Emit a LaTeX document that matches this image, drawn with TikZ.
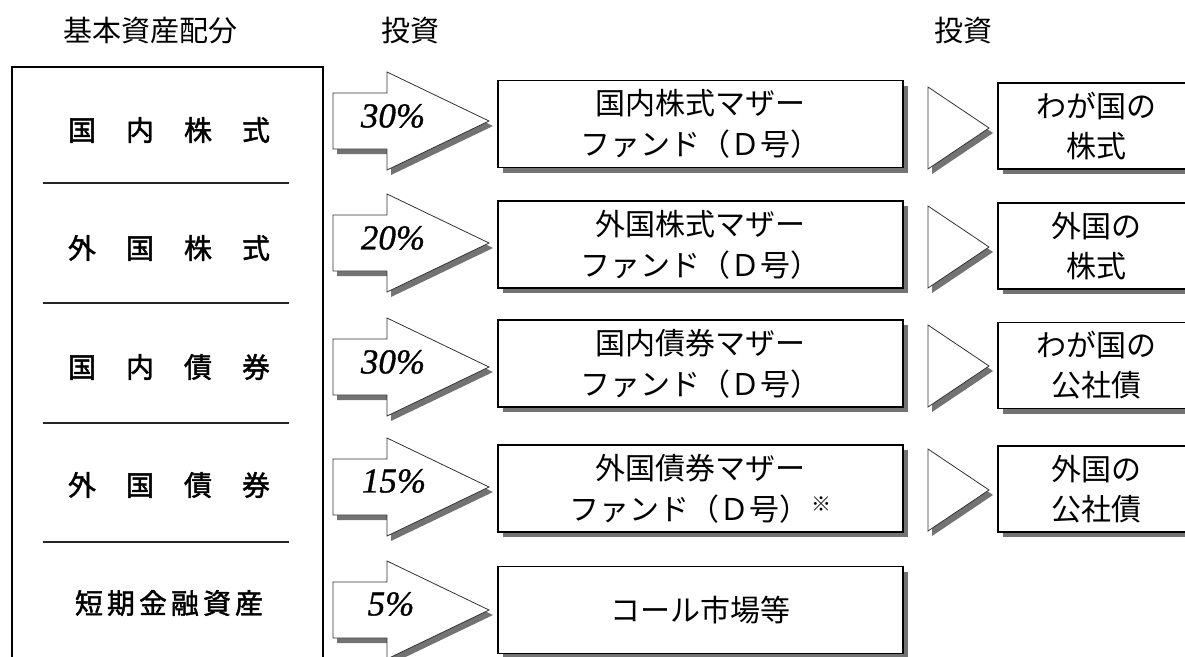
\documentclass[tikz,border=0pt]{standalone}
\usepackage{fontspec}
\setmainfont{Liberation Serif}
\newfontfamily\jp{Noto Sans CJK JP}
\newfontfamily\jpm[FakeBold=1.6]{Noto Sans CJK JP}
\newfontface\pctfont[FakeBold=0.9]{Liberation Serif Italic}
\usetikzlibrary{shadows}
\tikzset{
  hdr/.style={font=\jp\fontsize{29}{32}\selectfont},
  cat/.style={font=\jpm\fontsize{28}{32}\selectfont},
  pct/.style={font=\pctfont\fontsize{35}{36}\selectfont},
  boxshadow/.style={drop shadow={shadow xshift=5pt, shadow yshift=-5pt, fill=black!55, opacity=1}},
  fund/.style={draw, line width=1.4pt, fill=white, minimum width=405pt, minimum height=87pt,
    inner sep=0pt, align=center, font=\jp\fontsize{30}{41}\selectfont, boxshadow},
  asset/.style={draw, line width=1.4pt, fill=white, minimum width=197pt, minimum height=86pt,
    inner sep=0pt, align=center, font=\jp\fontsize{30}{40}\selectfont, boxshadow},
  blockarrow/.style={fill=white, draw=black!80, line width=0.8pt, line join=miter},
  shade/.style={fill=black!55},
  sepline/.style={line width=2.2pt, draw=black!85},
}
\newcommand\bigarr[1]{%
  \fill[shade, shift={(4,#1+5)}] (333,-28) -- (387,-28) -- (387,-49) -- (489,0) -- (387,49) -- (387,28) -- (333,28) -- cycle;
  \draw[blockarrow, shift={(0,#1)}] (333,-28) -- (387,-28) -- (387,-49) -- (489,0) -- (387,49) -- (387,28) -- (333,28) -- cycle;}
\newcommand\tri[1]{%
  \fill[shade, shift={(4,#1+5)}] (928,-41) -- (989,0) -- (928,41) -- cycle;
  \draw[blockarrow, shift={(0,#1)}] (928,-41) -- (989,0) -- (928,41) -- cycle;}
\begin{document}
\begin{tikzpicture}[x=1pt,y=-1pt]
\useasboundingbox (0,0) rectangle (1185,656);
\fill[white] (0,0) rectangle (1185,656);
\clip (0,0) rectangle (1185,656);

% headers
\node[hdr] (h1) at (150,31) {基本資産配分};
\node[hdr] (h2) at (410,31) {投資};
\node[hdr] (h3) at (963,31) {投資};

% left allocation box (open at the bottom)
\draw[line width=2.6pt] (12,700) -- (12,67) -- (323,67) -- (323,700);
\draw[sepline] (43,183) -- (289,183);
\draw[sepline] (43,303) -- (289,303);
\draw[sepline] (43,423) -- (289,423);
\draw[sepline] (43,542) -- (289,542);

\node[cat] (c1) at (169,130) {国\kern30pt 内\kern30pt 株\kern30pt 式};
\node[cat] (c2) at (169,248) {外\kern30pt 国\kern30pt 株\kern30pt 式};
\node[cat] (c3) at (169,367) {国\kern30pt 内\kern30pt 債\kern30pt 券};
\node[cat] (c4) at (169,485) {外\kern30pt 国\kern30pt 債\kern30pt 券};
\node[cat] (c5) at (169,603) {短\kern4pt 期\kern4pt 金\kern4pt 融\kern4pt 資\kern4pt 産};

% block arrows with percentages
\bigarr{121}
\bigarr{243}
\bigarr{367}
\bigarr{487}
\bigarr{610}
\node[pct] (p1) at (393,116) {30\%};
\node[pct] (p2) at (393,238) {20\%};
\node[pct] (p3) at (393,362) {30\%};
\node[pct] (p4) at (394,481) {15\%};
\node[pct] (p5) at (391,604) {5\%};

% mother funds
\node[fund] (m1) at (700.5,124) {国内株式マザー\\ファンド（Ｄ号）};
\node[fund] (m2) at (700.5,244.5) {外国株式マザー\\ファンド（Ｄ号）};
\node[fund] (m3) at (700.5,363.5) {国内債券マザー\\ファンド（Ｄ号）};
\node[fund] (m4) at (700.5,488.5) {外国債券マザー\\ファンド（Ｄ号）\kern2pt\raisebox{9pt}{\fontsize{20}{20}\selectfont ※}};
\node[fund] (m5) at (700.5,610) {コール市場等};

% small triangles
\tri{128}
\tri{247}
\tri{366}
\tri{490}

% final investments
\node[asset] (a1) at (1096.5,126) {わが国の\\株式};
\node[asset] (a2) at (1096.5,246) {外国の\\株式};
\node[asset] (a3) at (1096.5,365.5) {わが国の\\公社債};
\node[asset] (a4) at (1096.5,489) {外国の\\公社債};
\end{tikzpicture}
\end{document}
